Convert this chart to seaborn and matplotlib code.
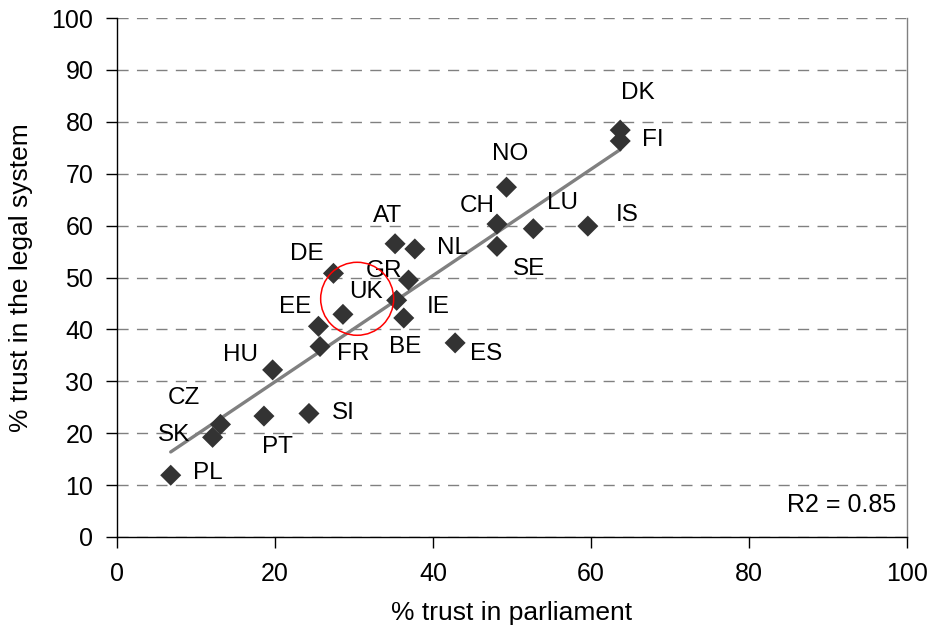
import matplotlib
matplotlib.use("Agg")
import matplotlib.pyplot as plt
from matplotlib.patches import Ellipse
import seaborn as sns
import pandas as pd

# --- data ---
countries = ["AT", "NL", "DE", "GR", "IE", "BE", "UK", "EE", "FR", "HU", "CZ", "SK",
             "PT", "SI", "PL", "ES", "CH", "SE", "NO", "LU", "IS", "DK", "FI"]
trust_parliament = [35.2, 37.7, 27.4, 36.9, 35.4, 36.3, 28.6, 25.5, 25.7, 19.7, 13.1, 12.1,
                    18.6, 24.3, 6.8, 42.8, 48.1, 48.1, 49.3, 52.7, 59.6, 63.7, 63.7]
trust_legal = [56.5, 55.5, 50.8, 49.5, 45.6, 42.2, 42.9, 40.6, 36.7, 32.2, 21.7, 19.2,
               23.3, 23.8, 11.9, 37.4, 60.3, 56.0, 67.4, 59.4, 59.9, 78.4, 76.3]
r2_text = "R2 = 0.85"
x_label = "% trust in parliament"
y_label = "% trust in the legal system"
x_ticks = [0, 20, 40, 60, 80, 100]
y_ticks = [0, 10, 20, 30, 40, 50, 60, 70, 80, 90, 100]

# label offsets (pixels) relative to each point -- layout only
label_offsets = {
    "AT": (-8, 28), "NL": (38, 1), "DE": (-27, 19), "GR": (-25, 9), "IE": (42, -7),
    "BE": (1, -29), "UK": (23, 22), "EE": (-23, 19), "FR": (33, -7), "HU": (-32, 15),
    "CZ": (-37, 26), "SK": (-39, 2), "PT": (13, -31), "SI": (34, 0), "PL": (37, 2),
    "ES": (31, -11), "CH": (-20, 18), "SE": (32, -23), "NO": (4, 33), "LU": (29, 26),
    "IS": (39, 11), "DK": (18, 37), "FI": (33, 1),
}

df = pd.DataFrame({"country": countries, "parliament": trust_parliament, "legal": trust_legal})

sns.set_style("ticks")
plt.rcParams["font.family"] = ["Liberation Sans", "DejaVu Sans"]
plt.rcParams["text.color"] = "black"
plt.rcParams["axes.labelcolor"] = "black"

fig = plt.figure(figsize=(9.3, 6.29), dpi=100)
ax = fig.add_axes([117 / 930, 1 - 537 / 629, 790 / 930, 519 / 629])

# grid
ax.set_axisbelow(True)
ax.yaxis.grid(True, color="#808080", linestyle=(0, (8, 6)), linewidth=1.0)
ax.xaxis.grid(False)

# regression line
sns.regplot(data=df, x="parliament", y="legal", scatter=False, ci=None, ax=ax,
            line_kws=dict(color="#808080", linewidth=2.4, zorder=2))

# points
sns.scatterplot(data=df, x="parliament", y="legal", marker="D", s=115, color="#333333",
                edgecolor="none", linewidth=0, ax=ax, zorder=3)

for c, xv, yv in zip(countries, trust_parliament, trust_legal):
    dx, dy = label_offsets[c]
    ax.annotate(c, (xv, yv), xytext=(dx, dy), textcoords="offset pixels",
                ha="center", va="center", fontsize=17.5, color="black", zorder=4)

# red circle around UK
ax.add_patch(Ellipse((30.4, 45.9), width=73 / 7.9, height=73 / 5.19, fill=False,
                     edgecolor="red", linewidth=1.1, zorder=5))

ax.text(0.987, 0.061, r2_text, transform=ax.transAxes, ha="right", va="center",
        fontsize=18, color="black")

ax.set_xlim(0, 100)
ax.set_ylim(0, 100)
ax.set_xticks(x_ticks)
ax.set_yticks(y_ticks)
ax.tick_params(axis="both", direction="out", length=8, width=1, color="black",
               labelsize=18, labelcolor="black")
ax.tick_params(axis="x", pad=10)
ax.tick_params(axis="y", pad=9)

ax.set_xlabel(x_label, fontsize=19, labelpad=11, color="black")
ax.set_ylabel(y_label, fontsize=19, labelpad=13, color="black")

ax.spines["top"].set_visible(False)
ax.spines["right"].set_color("#808080")
ax.spines["left"].set_color("black")
ax.spines["bottom"].set_color("black")
for s in ax.spines.values():
    s.set_linewidth(1.0)

fig.savefig("out.png", dpi=100)
